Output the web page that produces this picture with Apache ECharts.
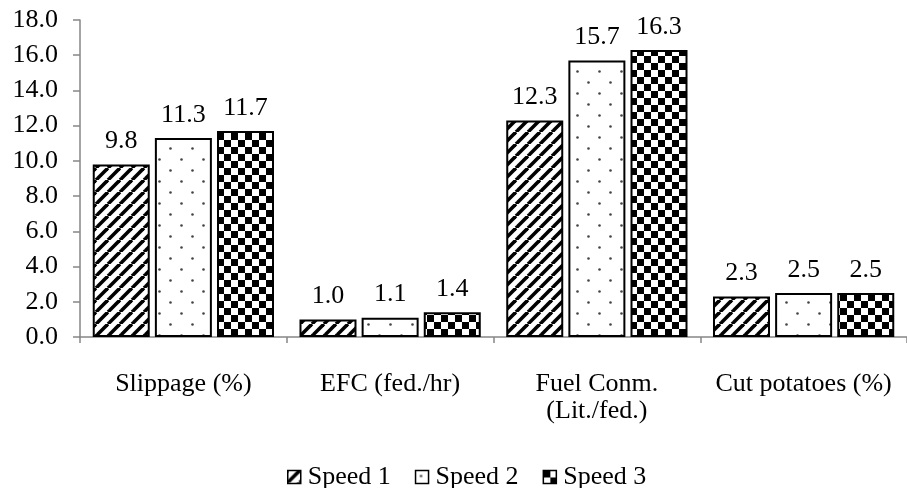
<!DOCTYPE html>
<html>
<head>
<meta charset="utf-8">
<script src="https://cdn.jsdelivr.net/npm/echarts@6/dist/echarts.min.js"></script>
<style>
html,body{margin:0;padding:0;background:#fff;}
#chart{width:907px;height:488px;}
</style>
</head>
<body>
<div id="chart"></div>
<script>
var categories = ['Slippage (%)', 'EFC (fed./hr)', 'Fuel Conm.\n(Lit./fed.)', 'Cut potatoes (%)'];
var seriesNames = ['Speed 1', 'Speed 2', 'Speed 3'];
var speed1 = [9.8, 1.0, 12.3, 2.3];
var speed2 = [11.3, 1.1, 15.7, 2.5];
var speed3 = [11.7, 1.4, 16.3, 2.5];
var yTicks = [0, 2, 4, 6, 8, 10, 12, 14, 16, 18];

function stripePattern() {
  var c = document.createElement('canvas');
  c.width = 12; c.height = 12;
  var ctx = c.getContext('2d');
  ctx.fillStyle = '#fff'; ctx.fillRect(0, 0, 12, 12);
  ctx.strokeStyle = '#000'; ctx.lineWidth = 3.6;
  for (var x0 = -12; x0 <= 12; x0 += 12) {
    ctx.beginPath(); ctx.moveTo(x0, 12); ctx.lineTo(x0 + 12, 0); ctx.stroke();
  }
  return c;
}
function dotPattern() {
  var c = document.createElement('canvas');
  c.width = 22; c.height = 22;
  var ctx = c.getContext('2d');
  ctx.fillStyle = '#fff'; ctx.fillRect(0, 0, 22, 22);
  ctx.fillStyle = '#444';
  ctx.beginPath(); ctx.arc(5.5, 5.5, 1.3, 0, Math.PI * 2); ctx.fill();
  ctx.beginPath(); ctx.arc(16.5, 16.5, 1.3, 0, Math.PI * 2); ctx.fill();
  return c;
}
function checkerPattern() {
  var c = document.createElement('canvas');
  c.width = 14; c.height = 14;
  var ctx = c.getContext('2d');
  ctx.fillStyle = '#fff'; ctx.fillRect(0, 0, 14, 14);
  ctx.fillStyle = '#000';
  ctx.fillRect(0, 0, 7, 7); ctx.fillRect(7, 7, 7, 7);
  return c;
}
var patterns = [stripePattern(), dotPattern(), checkerPattern()];
var values = [speed1, speed2, speed3];
var FONT = 'Liberation Serif';

var chart = echarts.init(document.getElementById('chart'), null, {renderer: 'canvas'});
var series = seriesNames.map(function (name, i) {
  return {
    name: name,
    type: 'bar',
    data: values[i],
    barWidth: 57,
    barGap: '9%',
    itemStyle: {
      color: {image: patterns[i], repeat: 'repeat'},
      borderColor: '#000',
      borderWidth: 2
    },
    label: {
      show: true,
      position: 'top',
      distance: 10,
      color: '#000',
      fontFamily: FONT,
      fontSize: 26,
      formatter: function (p) { return p.value.toFixed(1); }
    },
    emphasis: {disabled: true}
  };
});

chart.setOption({
  animation: false,
  backgroundColor: '#fff',
  grid: {left: 80, right: -9, top: 20, bottom: 151, containLabel: false},
  legend: {
    data: seriesNames,
    left: 282,
    top: 459,
    itemWidth: 13,
    itemHeight: 13,
    itemGap: 24,
    icon: 'rect',
    itemStyle: {borderColor: '#000', borderWidth: 1.5},
    textStyle: {fontFamily: FONT, fontSize: 26, color: '#000', padding: [0, 0, 0, 2]}
  },
  xAxis: {
    type: 'category',
    data: categories,
    axisLine: {lineStyle: {color: '#868686', width: 1.5}},
    axisTick: {show: true, length: 6, alignWithLabel: false, lineStyle: {color: '#868686', width: 1.5}},
    axisLabel: {
      fontFamily: FONT, fontSize: 26, color: '#000', margin: 34, lineHeight: 27,
      interval: 0
    },
    splitLine: {show: false}
  },
  yAxis: {
    type: 'value',
    min: 0,
    max: 18,
    interval: 2,
    axisLine: {show: true, lineStyle: {color: '#868686', width: 1.5}},
    axisTick: {show: true, length: 7, lineStyle: {color: '#868686', width: 1.5}},
    axisLabel: {
      fontFamily: FONT, fontSize: 26, color: '#000', margin: 22,
      formatter: function (v) { return yTicks.indexOf(v) >= 0 ? v.toFixed(1) : ''; }
    },
    splitLine: {show: false}
  },
  series: series
});
</script>
</body>
</html>
